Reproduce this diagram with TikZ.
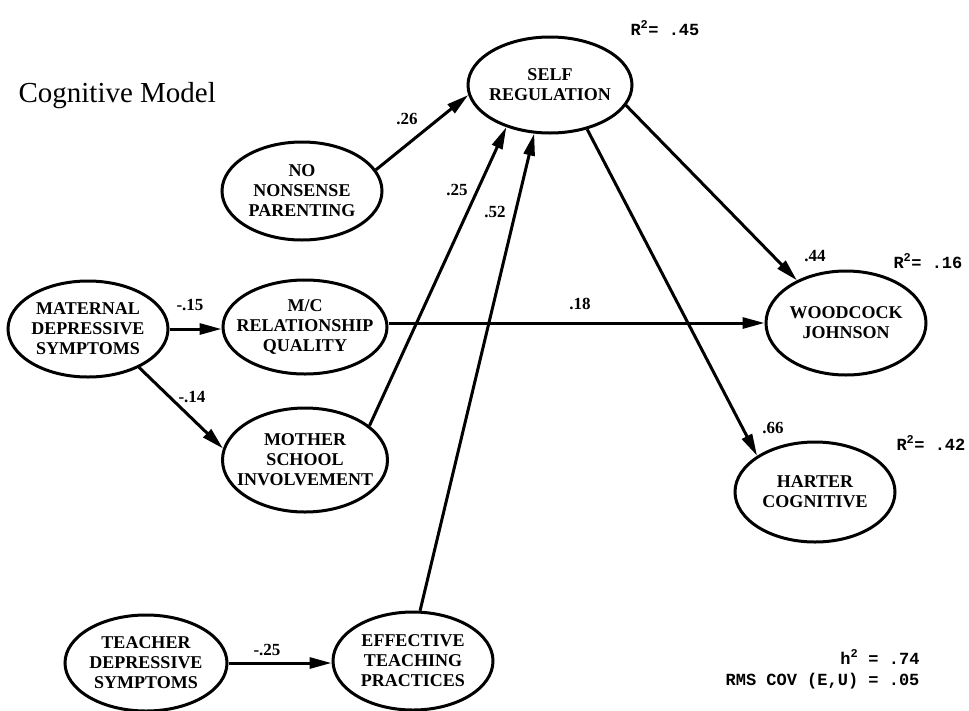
\documentclass[tikz,border=0pt]{standalone}
\usepackage{fontspec}
\setmainfont{Liberation Serif}
\setmonofont{Liberation Mono}
\usetikzlibrary{shapes.geometric,arrows.meta}

\begin{document}
\begin{tikzpicture}[x=1pt,y=-1pt,
  latent/.style={ellipse,draw,line width=3pt,inner xsep=-30pt,inner ysep=0pt,
    align=center,font=\fontsize{18}{20}\selectfont\bfseries},
  effect/.style={line width=3pt,-{Triangle[length=22pt,width=11pt]}},
  coef/.style={font=\fontsize{17}{17}\selectfont\bfseries},
  fitstat/.style={font=\fontsize{17}{17}\selectfont\ttfamily\bfseries}]
\useasboundingbox (0,0) rectangle (969,710);
\node [anchor=base west,font=\fontsize{29}{29}\selectfont] (title) at (15,102) {Cognitive Model};
\node [latent,minimum width=164pt,minimum height=96pt] (sr) at (550,85) {SELF\\REGULATION};
\node [latent,minimum width=160pt,minimum height=98pt] (nnp) at (302,191) {NO\\NONSENSE\\PARENTING};
\node [latent,minimum width=160pt,minimum height=96pt] (mds) at (88,329) {MATERNAL\\DEPRESSIVE\\SYMPTOMS};
\node [latent,minimum width=164pt,minimum height=94pt] (mc) at (305,327) {M/C\\RELATIONSHIP\\QUALITY};
\node [latent,minimum width=165pt,minimum height=104pt] (msi) at (305,460) {MOTHER\\SCHOOL\\INVOLVEMENT};
\node [latent,minimum width=160pt,minimum height=104pt] (wj) at (846,323) {WOODCOCK\\JOHNSON};
\node [latent,minimum width=160pt,minimum height=100pt] (hc) at (815,492) {HARTER\\COGNITIVE};
\node [latent,minimum width=162pt,minimum height=96pt] (tds) at (146,663) {TEACHER\\DEPRESSIVE\\SYMPTOMS};
\node [latent,minimum width=160pt,minimum height=98pt] (etp) at (413,661) {EFFECTIVE\\TEACHING\\PRACTICES};

\draw [effect] (nnp.16) -- (sr.187);
\draw [effect] (msi.28) -- (sr.224);
\draw [effect] (etp.82) -- (sr.252);
\draw [effect] (mds.east) -- (mds.east -| mc.west);
\draw [effect] (mds.-37) -- (msi.172);
\draw [effect] (mc.east |- wj.west) -- (wj.west);
\draw [effect] (tds.east) -- (tds.east -| etp.west);
\draw [effect] (sr.-15) -- (wj.139);
\draw [effect] (sr.-50) -- (hc.148);

\node [coef] (b26) at (407,119) {.26};
\node [coef] (b25) at (457,190) {.25};
\node [coef] (b52) at (495,212) {.52};
\node [coef] (b15) at (190,305) {-.15};
\node [coef] (b14) at (192,397) {-.14};
\node [coef] (b18) at (580,304) {.18};
\node [coef] (b44) at (815,256) {.44};
\node [coef] (b66) at (773,428) {.66};
\node [coef] (b25t) at (267,650) {-.25};

\node [fitstat,anchor=base west] (r2sr) at (627,35) {R\textsuperscript{2}= .45};
\node [fitstat,anchor=base west] (r2wj) at (890,268) {R\textsuperscript{2}= .16};
\node [fitstat,anchor=base west] (r2hc) at (893,450) {R\textsuperscript{2}= .42};
\node [fitstat,anchor=base east] (h2) at (923,664) {h\textsuperscript{2} = .74};
\node [fitstat,anchor=base east] (rms) at (923,685) {RMS COV (E,U) = .05};
\end{tikzpicture}
\end{document}
